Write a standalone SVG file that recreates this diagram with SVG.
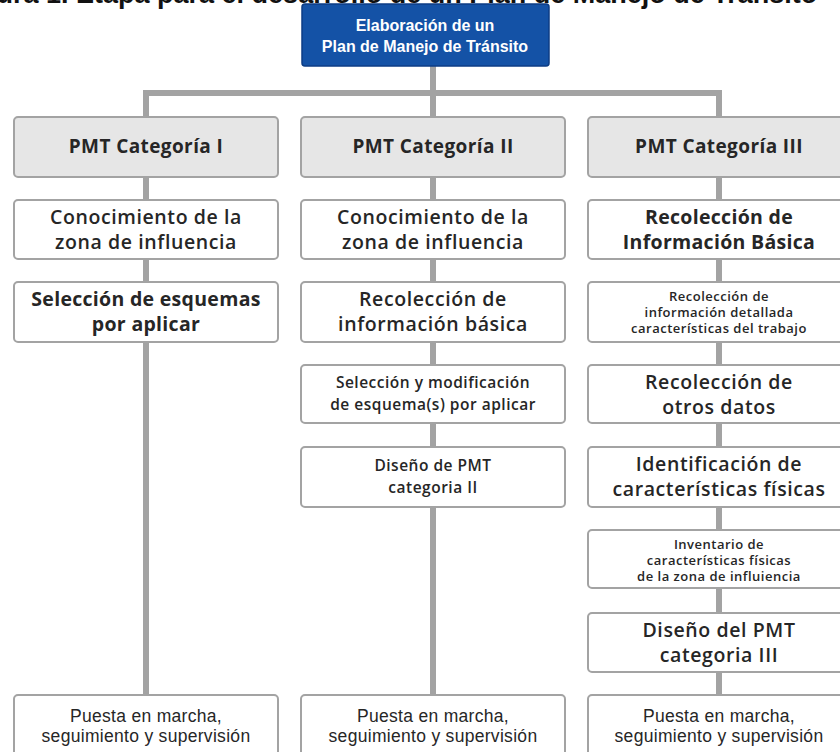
<svg xmlns="http://www.w3.org/2000/svg" width="840" height="752" viewBox="0 0 840 752">
<style>
.bg{fill:#ffffff}
.title{font-family:"Liberation Sans",Arial,sans-serif;font-weight:bold;font-size:27px;fill:#111;text-anchor:start}
.root rect{fill:#1452a6;stroke:#0c3d85;stroke-width:1.5}
.root text{font-family:"Liberation Sans",Arial,sans-serif;font-weight:bold;font-size:16px;fill:#ffffff;text-anchor:middle}
.cat rect{fill:#e6e6e6;stroke:#a3a3a3;stroke-width:2}
.box rect{fill:#ffffff;stroke:#a3a3a3;stroke-width:2}
text{font-family:"Open Sans","Noto Sans","DejaVu Sans",sans-serif;fill:#262626;text-anchor:middle}
.h{font-size:19px;font-weight:700;letter-spacing:0.4px}
.m{font-size:19.5px;font-weight:600;letter-spacing:0.6px}
.b{font-size:19.5px;font-weight:700;letter-spacing:0.3px}
.s{font-size:13px;font-weight:600;letter-spacing:0.5px}
.s2{font-size:15.5px;font-weight:600;letter-spacing:0.5px}
.p{font-family:"Liberation Sans",Arial,sans-serif;font-size:17.5px;font-weight:500;letter-spacing:0.3px}
.conn path{fill:none;stroke:#a3a3a3;stroke-width:6}
</style>
<rect class="bg" x="0" y="0" width="840" height="752"/>
<text class="title" x="-44" y="3">Figura 1. Etapa para el desarrollo de un Plan de Manejo de Tránsito</text>
<g id="connectors" class="conn">
<path d="M433 66 V93"/>
<path d="M146 93 H719"/>
<path d="M146 90 V117"/>
<path d="M433 93 V117"/>
<path d="M719 90 V117"/>
<path d="M146 177 V200"/>
<path d="M146 259 V282"/>
<path d="M146 342 V695"/>
<path d="M433 177 V200"/>
<path d="M433 259 V282"/>
<path d="M433 342 V365"/>
<path d="M433 423 V447"/>
<path d="M433 507 V695"/>
<path d="M719 177 V200"/>
<path d="M719 259 V282"/>
<path d="M719 342 V365"/>
<path d="M719 423 V447"/>
<path d="M719 507 V530"/>
<path d="M719 588 V613"/>
<path d="M719 672 V695"/>
</g>
<g id="root" class="root">
<rect x="302" y="4" width="247" height="62" rx="3"/>
<text x="425" y="31">Elaboración de un</text>
<text x="425" y="52">Plan de Manejo de Tránsito</text>
</g>
<g id="cat1" class="cat"><rect x="14" y="117" width="264" height="60" rx="4"/><text class="h" x="146" y="153">PMT Categoría I</text></g>
<g id="cat2" class="cat"><rect x="301" y="117" width="264" height="60" rx="4"/><text class="h" x="433" y="153">PMT Categoría II</text></g>
<g id="cat3" class="cat"><rect x="588" y="117" width="262" height="60" rx="4"/><text class="h" x="719" y="153">PMT Categoría III</text></g>

<g id="c1n1" class="box"><rect x="14" y="200" width="264" height="59" rx="4"/><text class="m" x="146" y="224">Conocimiento de la</text><text class="m" x="146" y="249">zona de influencia</text></g>
<g id="c1n2" class="box"><rect x="14" y="282" width="264" height="60" rx="4"/><text class="b" x="146" y="306">Selección de esquemas</text><text class="b" x="146" y="331">por aplicar</text></g>
<g id="c1n3" class="box"><rect x="14" y="695" width="264" height="62" rx="4"/><text class="p" x="146" y="722">Puesta en marcha,</text><text class="p" x="146" y="742">seguimiento y supervisión</text></g>

<g id="c2n1" class="box"><rect x="301" y="200" width="264" height="59" rx="4"/><text class="m" x="433" y="224">Conocimiento de la</text><text class="m" x="433" y="249">zona de influencia</text></g>
<g id="c2n2" class="box"><rect x="301" y="282" width="264" height="60" rx="4"/><text class="m" x="433" y="306">Recolección de</text><text class="m" x="433" y="331">información básica</text></g>
<g id="c2n3" class="box"><rect x="301" y="365" width="264" height="58" rx="4"/><text class="s2" x="433" y="388">Selección y modificación</text><text class="s2" x="433" y="410">de esquema(s) por aplicar</text></g>
<g id="c2n4" class="box"><rect x="301" y="447" width="264" height="60" rx="4"/><text class="s2" x="433" y="471">Diseño de PMT</text><text class="s2" x="433" y="493">categoria II</text></g>
<g id="c2n5" class="box"><rect x="301" y="695" width="264" height="62" rx="4"/><text class="p" x="433" y="722">Puesta en marcha,</text><text class="p" x="433" y="742">seguimiento y supervisión</text></g>

<g id="c3n1" class="box"><rect x="588" y="200" width="262" height="59" rx="4"/><text class="b" x="719" y="224">Recolección de</text><text class="b" x="719" y="249">Información Básica</text></g>
<g id="c3n2" class="box"><rect x="588" y="282" width="262" height="60" rx="4"/><text class="s" x="719" y="301">Recolección de</text><text class="s" x="719" y="317">información detallada</text><text class="s" x="719" y="333">características del trabajo</text></g>
<g id="c3n3" class="box"><rect x="588" y="365" width="262" height="58" rx="4"/><text class="m" x="719" y="389">Recolección de</text><text class="m" x="719" y="414">otros datos</text></g>
<g id="c3n4" class="box"><rect x="588" y="447" width="262" height="60" rx="4"/><text class="m" x="719" y="471">Identificación de</text><text class="m" x="719" y="496">características físicas</text></g>
<g id="c3n5" class="box"><rect x="588" y="530" width="262" height="58" rx="4"/><text class="s" x="719" y="549">Inventario de</text><text class="s" x="719" y="565">características físicas</text><text class="s" x="719" y="581">de la zona de influiencia</text></g>
<g id="c3n6" class="box"><rect x="588" y="613" width="262" height="59" rx="4"/><text class="m" x="719" y="637">Diseño del PMT</text><text class="m" x="719" y="662">categoria III</text></g>
<g id="c3n7" class="box"><rect x="588" y="695" width="262" height="62" rx="4"/><text class="p" x="719" y="722">Puesta en marcha,</text><text class="p" x="719" y="742">seguimiento y supervisión</text></g>
</svg>
